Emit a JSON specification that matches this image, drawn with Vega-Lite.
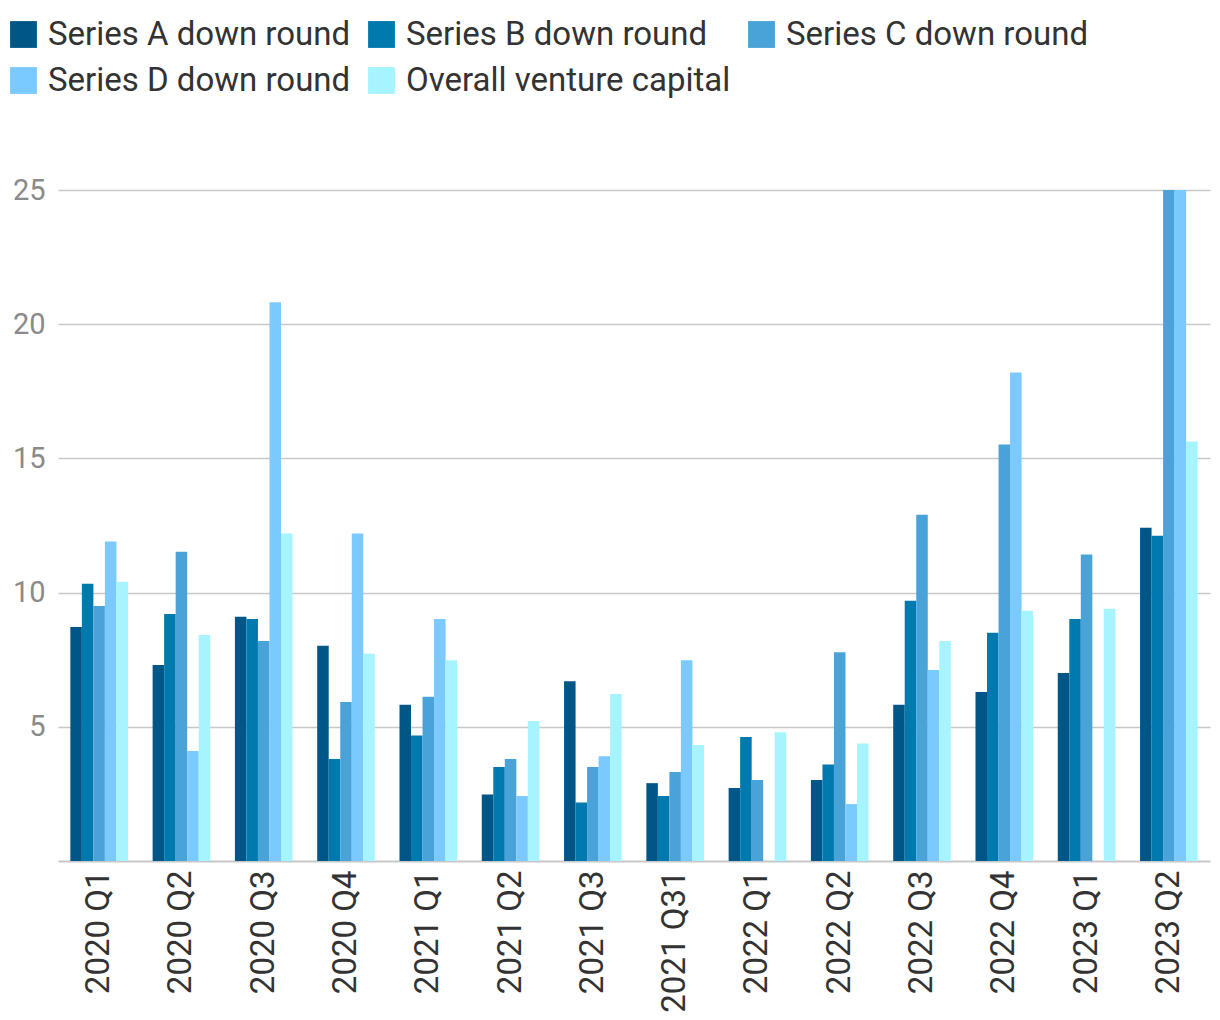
{
  "$schema": "https://vega.github.io/schema/vega-lite/v6.json",
  "width": 1152,
  "height": 671,
  "autosize": {"type": "none"},
  "padding": {"left": 58, "top": 190, "right": 10, "bottom": 159},
  "config": {
    "view": {"stroke": null},
    "font": "Roboto"
  },
  "data": {
    "values": [
      {"q": "2020 Q1", "s": "Series A down round", "v": 8.72},
      {"q": "2020 Q1", "s": "Series B down round", "v": 10.33},
      {"q": "2020 Q1", "s": "Series C down round", "v": 9.5},
      {"q": "2020 Q1", "s": "Series D down round", "v": 11.9},
      {"q": "2020 Q1", "s": "Overall venture capital", "v": 10.4},
      {"q": "2020 Q2", "s": "Series A down round", "v": 7.3},
      {"q": "2020 Q2", "s": "Series B down round", "v": 9.2},
      {"q": "2020 Q2", "s": "Series C down round", "v": 11.52},
      {"q": "2020 Q2", "s": "Series D down round", "v": 4.1},
      {"q": "2020 Q2", "s": "Overall venture capital", "v": 8.42},
      {"q": "2020 Q3", "s": "Series A down round", "v": 9.1},
      {"q": "2020 Q3", "s": "Series B down round", "v": 9.02},
      {"q": "2020 Q3", "s": "Series C down round", "v": 8.2},
      {"q": "2020 Q3", "s": "Series D down round", "v": 20.82},
      {"q": "2020 Q3", "s": "Overall venture capital", "v": 12.2},
      {"q": "2020 Q4", "s": "Series A down round", "v": 8.02},
      {"q": "2020 Q4", "s": "Series B down round", "v": 3.8},
      {"q": "2020 Q4", "s": "Series C down round", "v": 5.92},
      {"q": "2020 Q4", "s": "Series D down round", "v": 12.2},
      {"q": "2020 Q4", "s": "Overall venture capital", "v": 7.72},
      {"q": "2021 Q1", "s": "Series A down round", "v": 5.82},
      {"q": "2021 Q1", "s": "Series B down round", "v": 4.68},
      {"q": "2021 Q1", "s": "Series C down round", "v": 6.12},
      {"q": "2021 Q1", "s": "Series D down round", "v": 9.02},
      {"q": "2021 Q1", "s": "Overall venture capital", "v": 7.48},
      {"q": "2021 Q2", "s": "Series A down round", "v": 2.48},
      {"q": "2021 Q2", "s": "Series B down round", "v": 3.5},
      {"q": "2021 Q2", "s": "Series C down round", "v": 3.8},
      {"q": "2021 Q2", "s": "Series D down round", "v": 2.42},
      {"q": "2021 Q2", "s": "Overall venture capital", "v": 5.22},
      {"q": "2021 Q3", "s": "Series A down round", "v": 6.7},
      {"q": "2021 Q3", "s": "Series B down round", "v": 2.18},
      {"q": "2021 Q3", "s": "Series C down round", "v": 3.5},
      {"q": "2021 Q3", "s": "Series D down round", "v": 3.9},
      {"q": "2021 Q3", "s": "Overall venture capital", "v": 6.22},
      {"q": "2021 Q31", "s": "Series A down round", "v": 2.9},
      {"q": "2021 Q31", "s": "Series B down round", "v": 2.42},
      {"q": "2021 Q31", "s": "Series C down round", "v": 3.32},
      {"q": "2021 Q31", "s": "Series D down round", "v": 7.48},
      {"q": "2021 Q31", "s": "Overall venture capital", "v": 4.32},
      {"q": "2022 Q1", "s": "Series A down round", "v": 2.72},
      {"q": "2022 Q1", "s": "Series B down round", "v": 4.62},
      {"q": "2022 Q1", "s": "Series C down round", "v": 3.02},
      {"q": "2022 Q1", "s": "Overall venture capital", "v": 4.8},
      {"q": "2022 Q2", "s": "Series A down round", "v": 3.02},
      {"q": "2022 Q2", "s": "Series B down round", "v": 3.6},
      {"q": "2022 Q2", "s": "Series C down round", "v": 7.78},
      {"q": "2022 Q2", "s": "Series D down round", "v": 2.12},
      {"q": "2022 Q2", "s": "Overall venture capital", "v": 4.38},
      {"q": "2022 Q3", "s": "Series A down round", "v": 5.82},
      {"q": "2022 Q3", "s": "Series B down round", "v": 9.7},
      {"q": "2022 Q3", "s": "Series C down round", "v": 12.9},
      {"q": "2022 Q3", "s": "Series D down round", "v": 7.12},
      {"q": "2022 Q3", "s": "Overall venture capital", "v": 8.2},
      {"q": "2022 Q4", "s": "Series A down round", "v": 6.3},
      {"q": "2022 Q4", "s": "Series B down round", "v": 8.5},
      {"q": "2022 Q4", "s": "Series C down round", "v": 15.52},
      {"q": "2022 Q4", "s": "Series D down round", "v": 18.2},
      {"q": "2022 Q4", "s": "Overall venture capital", "v": 9.32},
      {"q": "2023 Q1", "s": "Series A down round", "v": 7.0},
      {"q": "2023 Q1", "s": "Series B down round", "v": 9.02},
      {"q": "2023 Q1", "s": "Series C down round", "v": 11.42},
      {"q": "2023 Q1", "s": "Overall venture capital", "v": 9.4},
      {"q": "2023 Q2", "s": "Series A down round", "v": 12.42},
      {"q": "2023 Q2", "s": "Series B down round", "v": 12.12},
      {"q": "2023 Q2", "s": "Series C down round", "v": 25},
      {"q": "2023 Q2", "s": "Series D down round", "v": 25},
      {"q": "2023 Q2", "s": "Overall venture capital", "v": 15.63}
    ]
  },
  "mark": {"type": "bar", "clip": true},
  "encoding": {
    "x": {
      "field": "q",
      "type": "nominal",
      "sort": null,
      "scale": {"paddingInner": 0.3, "paddingOuter": 0.15},
      "axis": {
        "title": null,
        "labelAngle": -90,
        "labelAlign": "right",
        "labelBaseline": "middle",
        "labelFontSize": 33,
        "labelColor": "#333333",
        "labelPadding": 9,
        "ticks": false,
        "domainColor": "#c8c8c8",
        "domainWidth": 2
      }
    },
    "xOffset": {
      "field": "s",
      "type": "nominal",
      "sort": ["Series A down round", "Series B down round", "Series C down round", "Series D down round", "Overall venture capital"]
    },
    "y": {
      "field": "v",
      "type": "quantitative",
      "scale": {"domain": [0, 25], "nice": false},
      "axis": {
        "title": null,
        "values": [5, 10, 15, 20, 25],
        "labelFontSize": 29,
        "labelColor": "#8a8a8a",
        "labelPadding": 13,
        "ticks": false,
        "domain": false,
        "gridColor": "#c8c8c8",
        "gridWidth": 1.5
      }
    },
    "color": {
      "field": "s",
      "type": "nominal",
      "sort": ["Series A down round", "Series B down round", "Series C down round", "Series D down round", "Overall venture capital"],
      "scale": {
        "domain": ["Series A down round", "Series B down round", "Series C down round", "Series D down round", "Overall venture capital"],
        "range": ["#005687", "#0079af", "#49a3d8", "#7acaff", "#a5f4ff"]
      },
      "legend": {
        "title": null,
        "orient": "none",
        "legendX": -51,
        "legendY": -172,
        "direction": "horizontal",
        "columns": 3,
        "gridAlign": "none",
        "symbolType": "square",
        "symbolSize": 720,
        "symbolStrokeWidth": 0,
        "labelFontSize": 33,
        "labelColor": "#333333",
        "labelOffset": 8,
        "columnPadding": 14,
        "rowPadding": 12,
        "labelLimit": 500
      }
    }
  }
}
